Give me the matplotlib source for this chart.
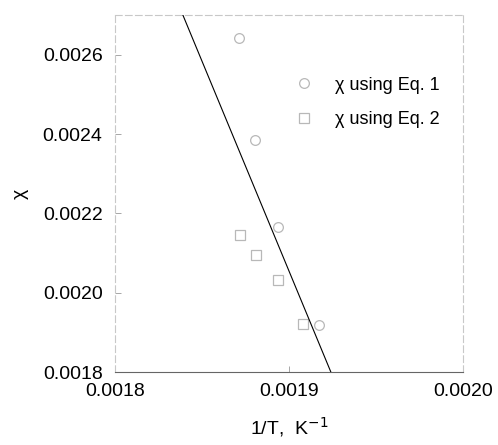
import numpy as np
import matplotlib
matplotlib.use("Agg")
import matplotlib.pyplot as plt

plt.rcParams["font.family"] = ["Liberation Sans", "DejaVu Sans"]

# chi from Eq. 1 (circles) and Eq. 2 (squares) vs 1/T
inv_t_eq1 = [0.001871, 0.0018805, 0.0018937, 0.0019172]
chi_eq1 = [0.002643, 0.002385, 0.002166, 0.001919]
inv_t_eq2 = [0.0018718, 0.001881, 0.0018937, 0.001908]
chi_eq2 = [0.002146, 0.002095, 0.002032, 0.001921]

# straight fit line through the data
fit_x = [0.001839, 0.001924]
fit_y = [0.0027, 0.0018]

x_ticks = [0.0018, 0.0019, 0.0020]
y_ticks = [0.0018, 0.0020, 0.0022, 0.0024, 0.0026]

fig = plt.figure(figsize=(4.98, 4.45), dpi=100)
ax = fig.add_axes([0.231, 0.164, 0.699, 0.802])

ax.plot(fit_x, fit_y, color="black", lw=0.8, zorder=3)
ax.plot(inv_t_eq1, chi_eq1, "o", ms=7, mfc="none", mec="#b8b8b8", mew=0.9,
        label="χ using Eq. 1", linestyle="none")
ax.plot(inv_t_eq2, chi_eq2, "s", ms=7, mfc="none", mec="#b8b8b8", mew=0.9,
        label="χ using Eq. 2", linestyle="none")

ax.set_xlim(0.0018, 0.0020)
ax.set_ylim(0.0018, 0.0027)
ax.set_xticks(x_ticks)
ax.set_xticklabels([f"{v:.4f}" for v in x_ticks])
ax.set_yticks(y_ticks)
ax.set_yticklabels([f"{v:.4f}" for v in y_ticks])
ax.tick_params(direction="in", length=4, width=0.6, color="#999999",
               labelsize=14)
ax.tick_params(axis="y", pad=9)
ax.tick_params(axis="x", pad=8)

for side in ["left", "right", "top"]:
    ax.spines[side].set_color("#c8c8c8")
    ax.spines[side].set_linestyle((0, (6, 3)))
    ax.spines[side].set_linewidth(0.8)
ax.spines["bottom"].set_color("#666666")
ax.spines["bottom"].set_linewidth(0.8)

ax.set_xlabel("1/T,  K$^{-1}$", fontsize=14, labelpad=11)
ax.set_ylabel("χ", fontsize=14, labelpad=10)

ax.legend(loc="upper left", bbox_to_anchor=(0.517, 0.828), frameon=False,
          fontsize=13, handlelength=1.0, handletextpad=1.2,
          labelspacing=0.97, borderpad=0, borderaxespad=0)

fig.savefig("out.png", dpi=100)
